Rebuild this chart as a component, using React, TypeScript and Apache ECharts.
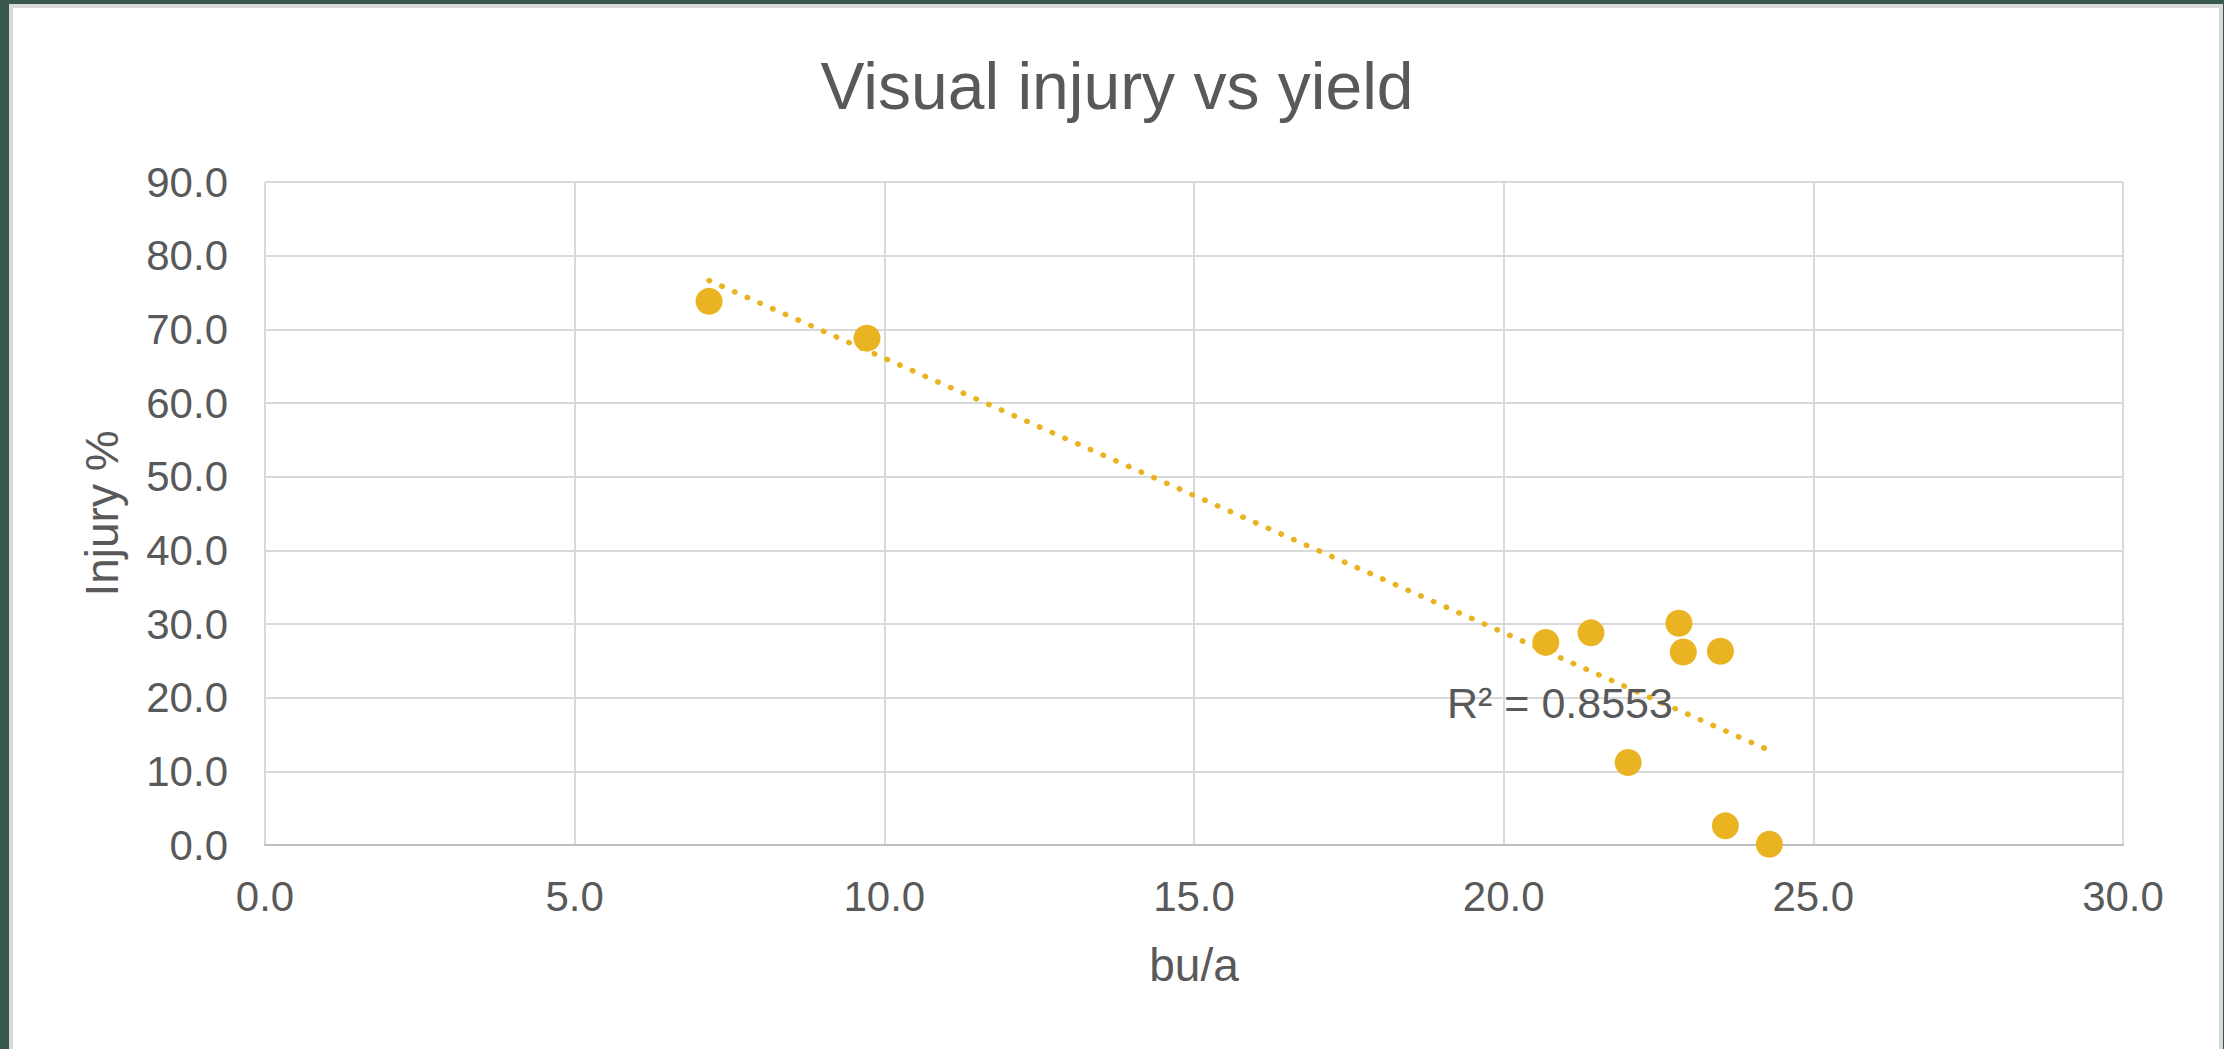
import React, { useEffect, useRef } from "react";
import * as echarts from "echarts";

const yieldBuA: number[] = [7.17, 9.72, 20.68, 21.41, 22.01, 22.83, 22.9, 23.5, 23.58, 24.29];
const injuryPct: number[] = [73.8, 68.8, 27.5, 28.8, 11.2, 30.1, 26.2, 26.3, 2.6, 0.1];
const titleText = "Visual injury vs yield";
const xAxisName = "bu/a";
const yAxisName = "Injury %";
const r2Label = "R² = 0.8553";

const FONT = '"Liberation Sans", Arial, sans-serif';
const TEXT = "#595959";
const GOLD = "#E9B321";

function linearFit(xs: number[], ys: number[]) {
  const n = xs.length;
  const mx = xs.reduce((a, b) => a + b, 0) / n;
  const my = ys.reduce((a, b) => a + b, 0) / n;
  let sxy = 0, sxx = 0;
  for (let i = 0; i < n; i++) {
    sxy += (xs[i] - mx) * (ys[i] - my);
    sxx += (xs[i] - mx) * (xs[i] - mx);
  }
  const slope = sxy / sxx;
  return { slope, intercept: my - slope * mx };
}

export default function App() {
  const ref = useRef<HTMLDivElement>(null);
  useEffect(() => {
    if (!ref.current) return;
    const chart = echarts.init(ref.current, undefined, { renderer: "svg" });
    const fit = linearFit(yieldBuA, injuryPct);
    const xMin = Math.min(...yieldBuA);
    const xMax = Math.max(...yieldBuA);
    const trend = [
      [xMin, fit.intercept + fit.slope * xMin],
      [xMax, fit.intercept + fit.slope * xMax],
    ];
    chart.setOption({
      animation: false,
      backgroundColor: "transparent",
      textStyle: { fontFamily: FONT },
      grid: { left: 265, top: 182, width: 1858, height: 663, outerBoundsMode: "none", containLabel: false },
      graphic: [
        {
          type: "text",
          x: 1117,
          y: 86,
          style: { text: titleText, fontSize: 66, fontFamily: FONT, fill: TEXT, textAlign: "center", textVerticalAlign: "middle" },
        },
        {
          type: "text",
          x: 1447,
          y: 703,
          z: 10,
          style: { text: r2Label, fontSize: 43, fontFamily: FONT, fill: TEXT, textAlign: "left", textVerticalAlign: "middle" },
        },
      ],
      xAxis: {
        type: "value",
        min: 0,
        max: 30,
        interval: 5,
        name: xAxisName,
        nameLocation: "middle",
        nameGap: 97,
        nameTextStyle: { fontSize: 46, color: TEXT, fontFamily: FONT },
        axisLine: { show: true, lineStyle: { color: "#BFBFBF", width: 2 } },
        axisTick: { show: false },
        axisLabel: { fontSize: 42, color: TEXT, margin: 30, fontFamily: FONT, formatter: (v: number) => v.toFixed(1) },
        splitLine: { show: true, lineStyle: { color: "#D9D9D9", width: 2 } },
      },
      yAxis: {
        type: "value",
        min: 0,
        max: 90,
        interval: 10,
        name: yAxisName,
        nameLocation: "middle",
        nameGap: 140,
        nameRotate: 90,
        nameTextStyle: { fontSize: 46, color: TEXT, fontFamily: FONT },
        axisLine: { show: false },
        axisTick: { show: false },
        axisLabel: { fontSize: 42, color: TEXT, margin: 37, fontFamily: FONT, formatter: (v: number) => v.toFixed(1) },
        splitLine: { show: true, lineStyle: { color: "#D9D9D9", width: 2 } },
      },
      series: [
        {
          type: "scatter",
          data: yieldBuA.map((x, i) => [x, injuryPct[i]]),
          symbol: "circle",
          symbolSize: 27,
          itemStyle: { color: GOLD, opacity: 1 },
          z: 2,
        },
        {
          type: "line",
          data: trend,
          showSymbol: false,
          symbol: "none",
          lineStyle: { color: GOLD, width: 5.5, type: [0.5, 13.4], cap: "round", opacity: 1 },
          z: 3,
          silent: true,
        },
      ],
    });
    return () => chart.dispose();
  }, []);

  return (
    <div style={{ position: "fixed", left: 0, top: 0, width: 2224, height: 1049, background: "#36574A", overflow: "hidden" }}>
      <div
        style={{
          position: "absolute",
          left: 9,
          top: 4,
          width: 2214,
          height: 1050,
          background: "#FFFFFF",
          border: "4px solid #D9D9D9",
          boxSizing: "border-box",
        }}
      />
      <div ref={ref} style={{ position: "absolute", left: 0, top: 0, width: 2224, height: 1049 }} />
    </div>
  );
}
